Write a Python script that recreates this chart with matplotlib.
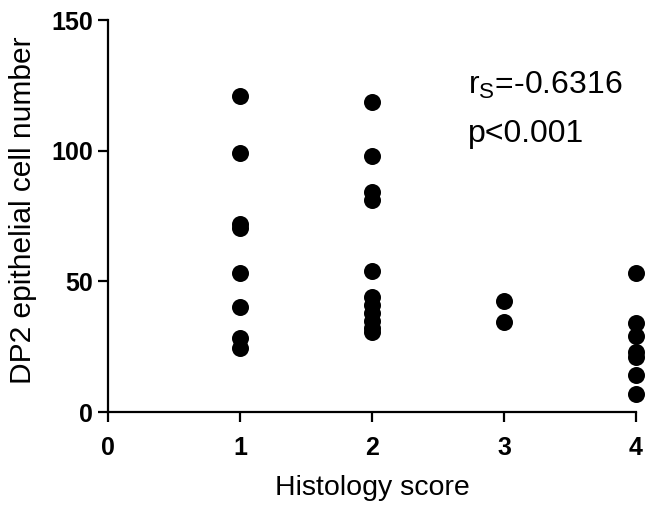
import matplotlib
matplotlib.use("Agg")
import matplotlib.pyplot as plt

plt.rcParams['font.family'] = ['Liberation Sans', 'DejaVu Sans']

score1 = [121, 99, 72, 70.5, 53, 40, 28.5, 24.5]
score2 = [118.5, 98, 84, 81, 54, 44, 41, 38, 35, 32, 30.5]
score3 = [42.5, 34.5]
score4 = [53, 34, 29, 23, 21, 14, 7]
groups = [(1, score1), (2, score2), (3, score3), (4, score4)]

xticks = [0, 1, 2, 3, 4]
yticks = [0, 50, 100, 150]

W, H = 647, 512
fig = plt.figure(figsize=(W/100, H/100), dpi=100)
ax = fig.add_axes([108/W, 100/H, (636-108)/W, (412-20)/H])

for x, vals in groups:
    ax.scatter([x]*len(vals), vals, s=150, color='black', zorder=3, clip_on=False, linewidths=0)

ax.set_xlim(0, 4)
ax.set_ylim(0, 150)
ax.set_xticks(xticks)
ax.set_yticks(yticks)
ax.set_xticklabels([str(t) for t in xticks], fontsize=18, fontweight='bold')
ax.set_yticklabels([str(t) for t in yticks], fontsize=18, fontweight='bold')
for s in ['top', 'right']:
    ax.spines[s].set_visible(False)
for s in ['left', 'bottom']:
    ax.spines[s].set_linewidth(1.6)
ax.tick_params(axis='x', length=7, width=1.6, direction='out', pad=10)
ax.tick_params(axis='y', length=7, width=1.6, direction='out', pad=4)

fig.text(372/W, 1 - 495/H, 'Histology score', fontsize=20.5, ha='center', va='baseline')
fig.text(23/W, 1 - 210/H, 'DP2 epithelial cell number', fontsize=21.5, rotation=90,
         ha='center', va='center')

ax.text(2.727, 122, r'r$_\mathregular{S}$=-0.6316', fontsize=23, va='baseline')
ax.text(2.727, 103.3, 'p<0.001', fontsize=23, va='baseline')

fig.savefig('out.png', dpi=100)
